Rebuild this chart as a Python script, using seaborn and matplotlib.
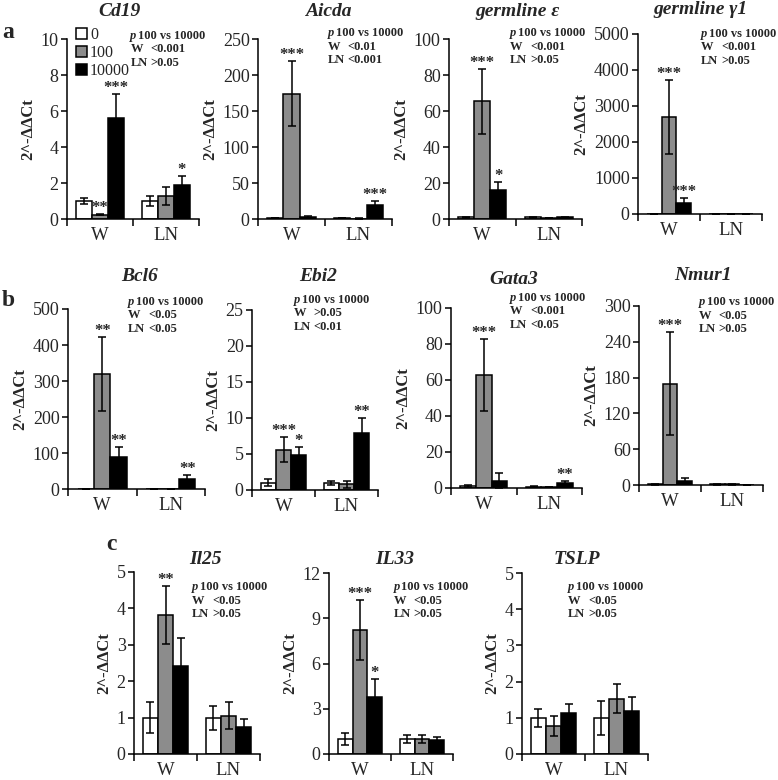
import numpy as np
import pandas as pd
import matplotlib
matplotlib.use("Agg")
import matplotlib.pyplot as plt
import seaborn as sns
from matplotlib.patches import Patch

# ---------------- data ----------------
groups = ["W", "LN"]
doses = ["0", "100", "10000"]
dose_colors = ["white", "#8c8c8c", "black"]

# order in each list: W-0, W-100, W-10000, LN-0, LN-100, LN-10000
cd19_mean = [1.00, 0.25, 5.60, 1.00, 1.30, 1.90]
cd19_err = [0.15, 0.05, 1.35, 0.28, 0.50, 0.50]
cd19_stars = ["", "**", "***", "", "", "*"]
cd19_p = ["<0.001", ">0.05"]

aicda_mean = [1.0, 174.0, 3.0, 1.0, 0.5, 20.0]
aicda_err = [0.3, 45.0, 1.5, 0.2, 0.2, 5.0]
aicda_stars = ["", "***", "", "", "", "***"]
aicda_p = ["<0.01", "<0.001"]

germe_mean = [1.0, 65.5, 16.0, 1.0, 0.6, 1.0]
germe_err = [0.3, 18.0, 4.5, 0.2, 0.2, 0.3]
germe_stars = ["", "***", "*", "", "", ""]
germe_p = ["<0.001", ">0.05"]

germg_mean = [1.0, 2700.0, 310.0, 1.0, 1.5, 1.0]
germg_err = [0.5, 1020.0, 130.0, 0.5, 0.5, 0.5]
germg_stars = ["", "***", "***", "", "", ""]
germg_p = ["<0.001", ">0.05"]

bcl6_mean = [1.0, 320.0, 88.0, 1.0, 1.0, 28.0]
bcl6_err = [0.3, 103.0, 28.0, 0.3, 0.3, 10.0]
bcl6_stars = ["", "**", "**", "", "", "**"]
bcl6_p = ["<0.05", "<0.05"]

ebi2_mean = [1.0, 5.6, 4.8, 1.0, 0.8, 7.9]
ebi2_err = [0.5, 1.7, 1.2, 0.3, 0.5, 2.1]
ebi2_stars = ["", "***", "*", "", "", "**"]
ebi2_p = [">0.05", "<0.01"]

gata3_mean = [1.0, 63.0, 4.0, 0.8, 0.5, 2.8]
gata3_err = [0.6, 20.0, 4.5, 0.2, 0.2, 1.0]
gata3_stars = ["", "***", "", "", "", "**"]
gata3_p = ["<0.001", "<0.05"]

nmur1_mean = [1.0, 170.0, 7.0, 1.0, 1.0, 0.5]
nmur1_err = [0.5, 87.0, 4.0, 0.3, 0.3, 0.2]
nmur1_stars = ["", "***", "", "", "", ""]
nmur1_p = ["<0.05", ">0.05"]

il25_mean = [1.00, 3.82, 2.43, 1.00, 1.05, 0.75]
il25_err = [0.43, 0.80, 0.77, 0.33, 0.37, 0.20]
il25_stars = ["", "**", "", "", "", ""]
il25_p = ["<0.05", ">0.05"]

il33_mean = [1.00, 8.20, 3.80, 1.00, 1.00, 0.92]
il33_err = [0.38, 2.00, 1.15, 0.25, 0.25, 0.20]
il33_stars = ["", "***", "*", "", "", ""]
il33_p = ["<0.05", ">0.05"]

tslp_mean = [1.00, 0.77, 1.12, 1.00, 1.53, 1.18]
tslp_err = [0.25, 0.27, 0.27, 0.47, 0.40, 0.40]
tslp_stars = ["", "", "", "", "", ""]
tslp_p = ["<0.05", ">0.05"]

titles = ["Cd19", "Aicda", "germline ε", "germline γ1",
          "Bcl6", "Ebi2", "Gata3", "Nmur1",
          "Il25", "IL33", "TSLP"]
y_max = [10, 250, 100, 5000, 500, 25, 100, 300, 5, 12, 5]
y_step = [2, 50, 20, 1000, 100, 5, 20, 60, 1, 3, 1]

means = [cd19_mean, aicda_mean, germe_mean, germg_mean, bcl6_mean, ebi2_mean,
         gata3_mean, nmur1_mean, il25_mean, il33_mean, tslp_mean]
errs = [cd19_err, aicda_err, germe_err, germg_err, bcl6_err, ebi2_err,
        gata3_err, nmur1_err, il25_err, il33_err, tslp_err]
stars = [cd19_stars, aicda_stars, germe_stars, germg_stars, bcl6_stars, ebi2_stars,
         gata3_stars, nmur1_stars, il25_stars, il33_stars, tslp_stars]
pvals = [cd19_p, aicda_p, germe_p, germg_p, bcl6_p, ebi2_p,
         gata3_p, nmur1_p, il25_p, il33_p, tslp_p]

# ---------------- layout (pixels) ----------------
W_PX, H_PX = 778, 780
# left, top, right, bottom of each axes
rects = [(67, 39, 199, 219), (258, 39, 392, 219), (449, 39, 582, 219), (638, 34, 762, 214),
         (68, 309, 205, 489), (252, 310, 378, 490), (451, 308, 582, 488), (639, 306, 763, 485),
         (134, 572, 260, 754), (329, 573, 453, 754), (522, 573, 648, 754)]
title_dy = [28, 28, 27, 24, 32, 33, 28, 31, 12, 14, 14]
title_dx = [-14, 3, 2, 0, 3, 3, -3, 2, 8, 4, -8]
p_x = [0.48, 0.52, 0.46, 0.51, 0.44, 0.33, 0.45, 0.48, 0.46, 0.52, 0.365]
p_dy = [3, 6, 6, 0, 7, 10, 10, 4, -15, -14, -14]

sns.set_style("ticks")
plt.rcParams["font.family"] = ["Liberation Serif", "DejaVu Serif"]

fig = plt.figure(figsize=(W_PX / 100, H_PX / 100), dpi=100)

for i, title in enumerate(titles):
    l, t, r, b = rects[i]
    ax = fig.add_axes([l / W_PX, 1 - b / H_PX, (r - l) / W_PX, (b - t) / H_PX])
    df = pd.DataFrame({"group": np.repeat(groups, 3),
                       "dose": doses * 2,
                       "value": means[i]})
    sns.barplot(data=df, x="group", y="value", hue="dose", order=groups,
                hue_order=doses, palette=dose_colors, saturation=1,
                edgecolor="black", linewidth=1.1, width=0.72,
                errorbar=None, legend=False, ax=ax)
    bars = sorted(ax.patches, key=lambda p: p.get_x())
    xs = [p.get_x() + p.get_width() / 2 for p in bars]
    ys = [p.get_height() for p in bars]
    ax.errorbar(xs, ys, yerr=errs[i], fmt="none", ecolor="black",
                elinewidth=1.1, capsize=3, capthick=1.1, zorder=4)
    for x, y, e, s in zip(xs, ys, errs[i], stars[i]):
        if s:
            ax.annotate(s, (x, y + e), xytext=(0, 2), textcoords="offset pixels",
                        ha="center", va="baseline", fontsize=12, fontweight="bold")

    ax.set_xlim(-0.5, 1.5)
    ax.set_ylim(0, y_max[i])
    ticks = np.arange(0, y_max[i] + y_step[i] / 2, y_step[i])
    ax.set_yticks(ticks)
    ax.set_yticklabels([str(int(v)) for v in ticks], fontsize=13)
    ax.set_xticks([0, 1])
    ax.set_xticklabels(groups, fontsize=13.5)
    ax.set_xticks([-0.5, 0.5, 1.5], minor=True)
    ax.tick_params(axis="x", which="major", length=0, pad=6)
    ax.tick_params(axis="x", which="minor", length=5, width=1.1, direction="out", color="black")
    ax.tick_params(axis="y", length=4, width=1.1, direction="out", pad=2, color="black")
    for sp in ["top", "right"]:
        ax.spines[sp].set_visible(False)
    for sp in ["left", "bottom"]:
        ax.spines[sp].set_linewidth(1.1)
        ax.spines[sp].set_color("black")
    ax.set_xlabel("")
    ax.set_ylabel("2^-ΔΔCt", fontsize=12, fontweight="bold", labelpad=3)

    ax.annotate(title, (0.5, 1), xycoords="axes fraction", xytext=(title_dx[i], title_dy[i]),
                textcoords="offset pixels", ha="center", va="center",
                fontsize=14, fontweight="bold", fontstyle="italic")

    # p-value box
    base = p_dy[i]
    ax.annotate("p", (p_x[i], 1), xycoords="axes fraction", xytext=(0, base),
                textcoords="offset pixels", ha="left", va="center",
                fontsize=9, fontweight="bold", fontstyle="italic", annotation_clip=False)
    ax.annotate("100 vs 10000", (p_x[i], 1), xycoords="axes fraction", xytext=(8, base),
                textcoords="offset pixels", ha="left", va="center",
                fontsize=9, fontweight="bold", annotation_clip=False)
    for k, (lab, val) in enumerate(zip(groups, pvals[i])):
        dy = base - 13.5 * (k + 1)
        ax.annotate(lab, (p_x[i], 1), xycoords="axes fraction", xytext=(0, dy),
                    textcoords="offset pixels", ha="left", va="center",
                    fontsize=9, fontweight="bold", annotation_clip=False)
        ax.annotate(val, (p_x[i], 1), xycoords="axes fraction", xytext=(20, dy),
                    textcoords="offset pixels", ha="left", va="center",
                    fontsize=9, fontweight="bold", annotation_clip=False)

    if i == 0:
        handles = [Patch(facecolor=c, edgecolor="black", linewidth=1.1) for c in dose_colors]
        ax.legend(handles, doses, loc="upper left", bbox_to_anchor=(0.065, 1.065),
                  frameon=False, fontsize=11.5, handlelength=0.7, handleheight=0.7,
                  handletextpad=0.2, labelspacing=0.12, borderpad=0, borderaxespad=0)

for letter, (x, y) in zip(["a", "b", "c"], [(8, 32), (8, 300), (111, 545)]):
    fig.text(x / W_PX, 1 - y / H_PX, letter, fontsize=17, fontweight="bold",
             ha="center", va="center")

fig.savefig("out.png", dpi=100)
